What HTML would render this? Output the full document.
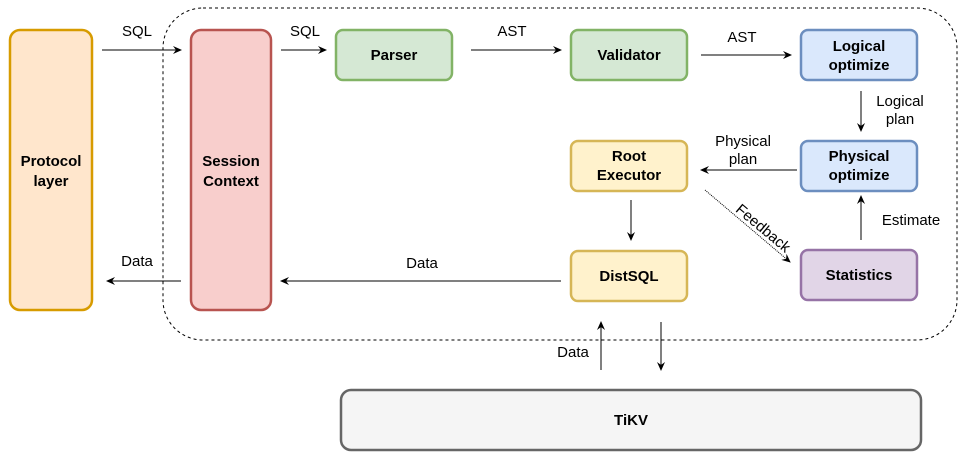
<!DOCTYPE html>
<html><head><style>body{margin:0;background:#fff}svg{display:block}text{font-family:"Liberation Sans",sans-serif;font-size:15px}</style></head><body>
<svg width="962" height="462" xmlns="http://www.w3.org/2000/svg">
<defs><marker id="a" markerWidth="10" markerHeight="10" refX="8" refY="5" orient="auto" markerUnits="userSpaceOnUse"><path d="M0,1 L9,5 L0,9 L3,5 Z" fill="#000"/></marker></defs>
<rect x="163" y="8" width="794" height="332" rx="40" fill="none" stroke="#000" stroke-dasharray="3,3"/>
<g stroke-width="2.5">
<rect x="10" y="30" width="82" height="280" rx="10" fill="#ffe6cc" stroke="#d79b00"/>
<rect x="191" y="30" width="80" height="280" rx="10" fill="#f8cecc" stroke="#b85450"/>
<rect x="336" y="30" width="116" height="50" rx="7" fill="#d5e8d4" stroke="#82b366"/>
<rect x="571" y="30" width="116" height="50" rx="7" fill="#d5e8d4" stroke="#82b366"/>
<rect x="801" y="30" width="116" height="50" rx="7" fill="#dae8fc" stroke="#6c8ebf"/>
<rect x="571" y="141" width="116" height="50" rx="7" fill="#fff2cc" stroke="#d6b656"/>
<rect x="801" y="141" width="116" height="50" rx="7" fill="#dae8fc" stroke="#6c8ebf"/>
<rect x="571" y="251" width="116" height="50" rx="7" fill="#fff2cc" stroke="#d6b656"/>
<rect x="801" y="250" width="116" height="50" rx="7" fill="#e1d5e7" stroke="#9673a6"/>
<rect x="341" y="390" width="580" height="60" rx="10" fill="#f5f5f5" stroke="#666"/>
</g>
<g stroke="#000" stroke-width="1" marker-end="url(#a)">
<line x1="102" y1="50" x2="181" y2="50"/>
<line x1="281" y1="50" x2="326" y2="50"/>
<line x1="471" y1="50" x2="561" y2="50"/>
<line x1="701" y1="55" x2="791" y2="55"/>
<line x1="861" y1="91" x2="861" y2="131"/>
<line x1="797" y1="170" x2="701" y2="170"/>
<line x1="861" y1="240" x2="861" y2="196"/>
<line x1="705" y1="190" x2="790" y2="262" stroke-dasharray="1,1"/>
<line x1="631" y1="200" x2="631" y2="240"/>
<line x1="561" y1="281" x2="281" y2="281"/>
<line x1="181" y1="281" x2="107" y2="281"/>
<line x1="601" y1="370" x2="601" y2="322"/>
<line x1="661" y1="322" x2="661" y2="370"/>
</g>
<g font-weight="bold" text-anchor="middle">
<text x="51" y="166">Protocol</text><text x="51" y="186">layer</text>
<text x="231" y="166">Session</text><text x="231" y="186">Context</text>
<text x="394" y="60">Parser</text>
<text x="629" y="60">Validator</text>
<text x="859" y="51">Logical</text><text x="859" y="70">optimize</text>
<text x="629" y="161">Root</text><text x="629" y="180">Executor</text>
<text x="859" y="161">Physical</text><text x="859" y="180">optimize</text>
<text x="629" y="281">DistSQL</text>
<text x="859" y="280">Statistics</text>
<text x="631" y="425">TiKV</text>
</g>
<g text-anchor="middle">
<text x="137" y="36">SQL</text>
<text x="305" y="36">SQL</text>
<text x="512" y="36">AST</text>
<text x="742" y="42">AST</text>
<text x="900" y="106">Logical</text><text x="900" y="124">plan</text>
<text x="743" y="146">Physical</text><text x="743" y="164">plan</text>
<text x="911" y="225">Estimate</text>
<text x="137" y="266">Data</text>
<text x="422" y="268">Data</text>
<text x="573" y="357">Data</text>
<text transform="translate(760,232) rotate(40)">Feedback</text>
</g>
</svg>
</body></html>
